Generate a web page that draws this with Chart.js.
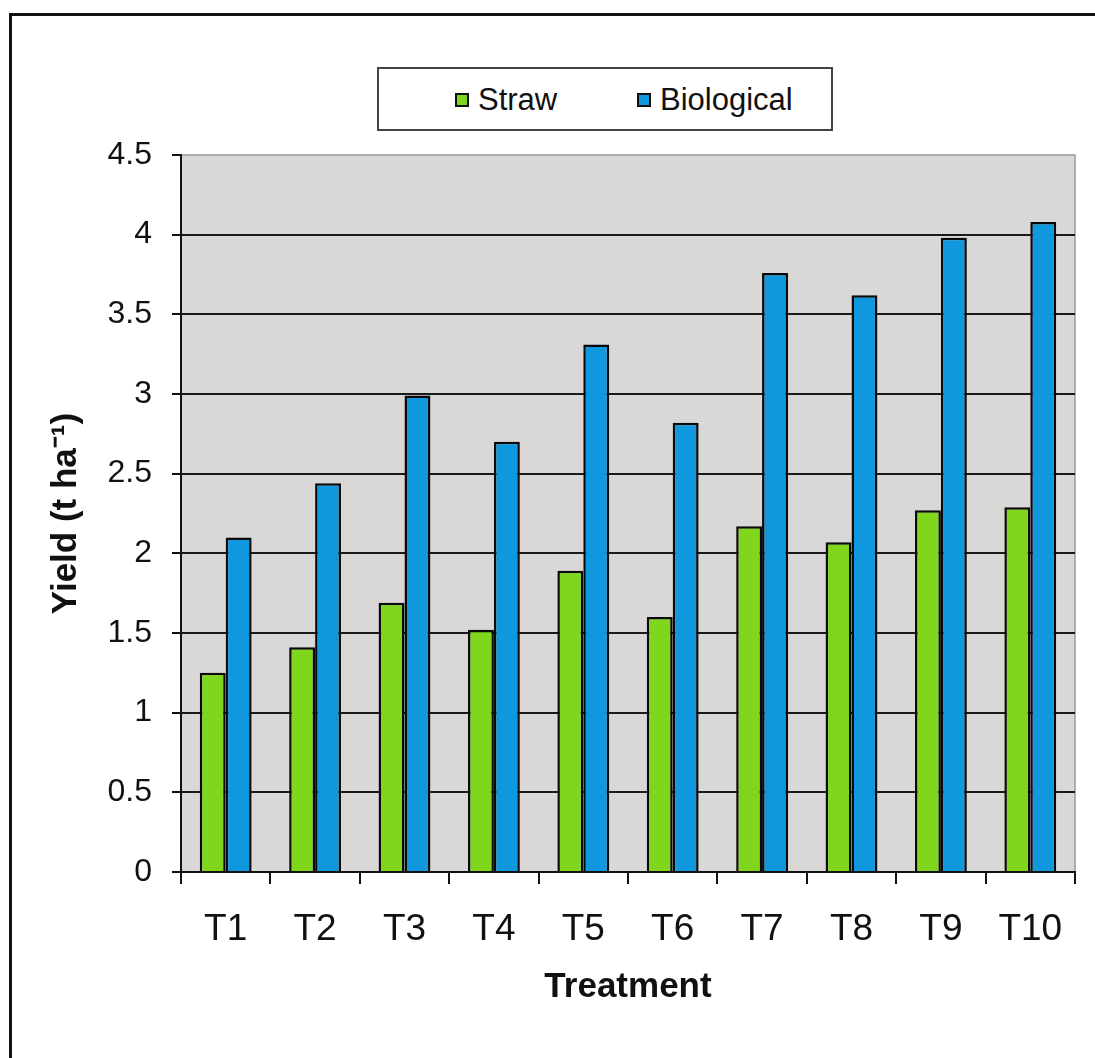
<!DOCTYPE html>
<html>
<head>
<meta charset="utf-8">
<script src="https://cdn.jsdelivr.net/npm/chart.js@4.4.1/dist/chart.umd.min.js"></script>
<style>
  html, body { margin: 0; padding: 0; background: #fff; }
  #wrap { position: relative; width: 1095px; height: 1058px; overflow: hidden; background: #fff; }
  #frame { position: absolute; left: 9px; top: 13px; width: 1200px; height: 1200px;
           border-top: 3px solid #111; border-left: 3px solid #111; }
  canvas { position: absolute; left: 0; top: 0; }
  #legend { position: absolute; left: 377px; top: 67px; width: 452px; height: 60px;
            border: 2px solid #444; background: #fff;
            font-family: 'Liberation Sans', Arial, sans-serif; font-size: 31px; color: #111; }
  .item { position: absolute; top: 0; height: 62px; display: flex; align-items: center; }
  .swatch { width: 10px; height: 10px; border: 2.5px solid #111; margin-right: 9px; }
</style>
</head>
<body>
<div id="wrap">
  <div id="frame"></div>
  <canvas id="chart" width="1095" height="1058"></canvas>
  <div id="legend"></div>
</div>
<script>
// Treatments on the x axis
const categories = ['T1', 'T2', 'T3', 'T4', 'T5', 'T6', 'T7', 'T8', 'T9', 'T10'];
// Yield values (t ha-1)
const strawYield      = [1.25, 1.41, 1.69, 1.52, 1.89, 1.60, 2.17, 2.07, 2.27, 2.29];
const biologicalYield = [2.10, 2.44, 2.99, 2.70, 3.31, 2.82, 3.76, 3.62, 3.98, 4.08];
const seriesNames  = ['Straw', 'Biological'];
const seriesColors = ['#80d61c', '#0f98de'];
// Value axis
const yMin = 0, yMax = 4.5, yStep = 0.5;
const xTitle = 'Treatment';
const yTitle = 'Yield (t ha\u207B\u00B9)';

const sans = "'Liberation Sans', Arial, sans-serif";

// grey plotting area with a light frame on its top and right
const plotBackground = {
  id: 'plotBackground',
  beforeDraw(chart) {
    const { ctx, chartArea: { left, top, right, bottom } } = chart;
    ctx.save();
    ctx.fillStyle = '#dad7d7';
    ctx.fillRect(left, top, right - left, bottom - top);
    ctx.strokeStyle = '#9c9a9a';
    ctx.lineWidth = 1.5;
    ctx.beginPath();
    ctx.moveTo(left, top);
    ctx.lineTo(right, top);
    ctx.lineTo(right, bottom);
    ctx.stroke();
    ctx.restore();
  }
};

const seriesData = [strawYield, biologicalYield];

new Chart(document.getElementById('chart'), {
  type: 'bar',
  data: {
    labels: categories,
    datasets: seriesNames.map((name, i) => ({
      label: name,
      data: seriesData[i],
      backgroundColor: seriesColors[i],
      borderColor: '#0a0a0a',
      borderWidth: 2.5,
      barPercentage: 1.0,
      categoryPercentage: 0.58
    }))
  },
  options: {
    responsive: false,
    animation: false,
    layout: { padding: { top: 155, right: 20, bottom: 0, left: 0 } },
    plugins: {
      legend: { display: false },
      tooltip: { enabled: false }
    },
    scales: {
      x: {
        grid: { display: true, drawOnChartArea: false, offset: true,
                tickLength: 12, color: '#111', lineWidth: 2 },
        border: { color: '#111', width: 2 },
        ticks: { color: '#111', padding: 24, font: { family: sans, size: 37 } },
        title: { display: true, text: xTitle, color: '#111',
                 font: { family: sans, size: 35, weight: 'bold', lineHeight: 1.2 },
                 padding: { top: 0, bottom: 50 } },
        afterFit(scale) { scale.height = 186; }
      },
      y: {
        min: yMin, max: yMax,
        grid: {
          color: ctx => (ctx.tick && ctx.tick.value === yMax) ? 'rgba(0,0,0,0)' : '#1a1a1a',
          tickColor: '#111', lineWidth: 2, tickWidth: 2, tickLength: 9
        },
        border: { color: '#111', width: 2 },
        ticks: { stepSize: yStep, color: '#111', padding: 20,
                 font: { family: sans, size: 32 },
                 callback: v => String(Math.round(v * 10) / 10) },
        title: { display: true, text: yTitle, color: '#111',
                 font: { family: sans, size: 35, weight: 'bold', lineHeight: 1.2 },
                 padding: { top: 45, bottom: 0 } },
        afterFit(scale) { scale.width = 181; }
      }
    }
  },
  plugins: [plotBackground]
});

// legend box above the plot
const legendEl = document.getElementById('legend');
const legendPos = [76, 258];
seriesNames.forEach((name, i) => {
  const item = document.createElement('div');
  item.className = 'item';
  item.style.left = legendPos[i] + 'px';
  const sw = document.createElement('span');
  sw.className = 'swatch';
  sw.style.background = seriesColors[i];
  const tx = document.createElement('span');
  tx.textContent = name;
  item.appendChild(sw);
  item.appendChild(tx);
  legendEl.appendChild(item);
});
</script>
</body>
</html>
